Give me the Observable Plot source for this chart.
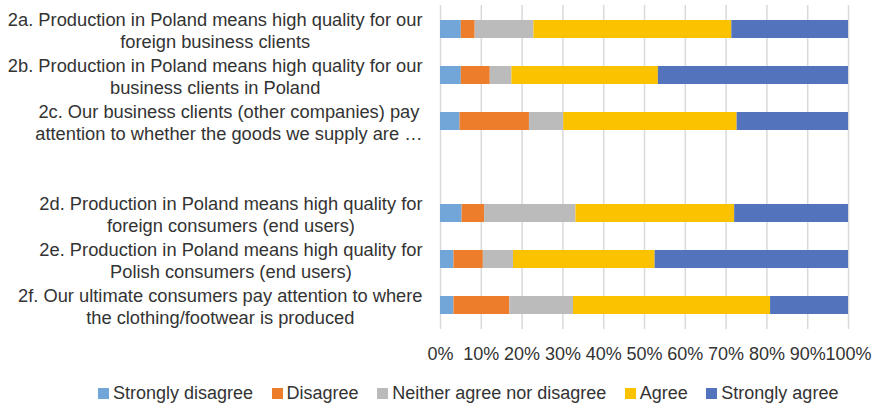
<!DOCTYPE html>
<html><head><meta charset="utf-8">
<script src="https://cdn.jsdelivr.net/npm/d3@7"></script>
<script src="https://cdn.jsdelivr.net/npm/@observablehq/plot@0.6"></script>
<style>
body{margin:0;background:#fff;font-family:"Liberation Sans",Arial,sans-serif;}
#legend{display:flex;padding-left:98px;margin-top:12px;font-size:18px;line-height:22px;color:#333;white-space:nowrap;}
.item{display:flex;align-items:center;margin-right:18.5px;}
.sw{width:11px;height:11px;margin-right:4px;flex:none;}
</style></head><body><div id="chart"></div><div id="legend"></div>
<script>
const statements = [
  "2a. Production in Poland means high quality for our\nforeign business clients",
  "2b. Production in Poland means high quality for our\nbusiness clients in Poland",
  "2c. Our business clients (other companies) pay\nattention to whether the goods we supply are …",
  "2d. Production in Poland means high quality for\nforeign consumers (end users)",
  "2e. Production in Poland means high quality for\nPolish consumers (end users)",
  "2f. Our ultimate consumers pay attention to where\nthe clothing/footwear is produced"
];
const responses = ["Strongly disagree", "Disagree", "Neither agree nor disagree", "Agree", "Strongly agree"];
const colors = ["#72A6D9", "#ED7D2B", "#BBBBBB", "#FBC200", "#5374BC"];
const stronglyDisagree = [5.1, 5.1, 4.8, 5.3, 3.3, 3.3];
const disagree         = [3.4, 7.1, 17.0, 5.5, 7.2, 13.7];
const neither          = [14.4, 5.3, 8.4, 22.4, 7.4, 15.6];
const agree            = [48.5, 35.9, 42.5, 38.9, 34.7, 48.3];
const stronglyAgree    = [28.6, 46.6, 27.3, 27.9, 47.4, 19.1];
const xTicks = [0, 10, 20, 30, 40, 50, 60, 70, 80, 90, 100];

const series = [stronglyDisagree, disagree, neither, agree, stronglyAgree];
const yOrder = [...statements.slice(0, 3), "", ...statements.slice(3)];
const data = [];
statements.forEach((s, i) => responses.forEach((r, j) => data.push({statement: s, response: r, value: series[j][i]})));

const plot = Plot.plot({
  width: 877, height: 370,
  marginLeft: 440, marginRight: 29, marginTop: 5, marginBottom: 41,
  style: {fontFamily: '"Liberation Sans", Arial, sans-serif', fontSize: "18px", color: "#333", background: "white"},
  x: {domain: [0, 100], label: null},
  y: {domain: yOrder, paddingInner: 0.611, paddingOuter: 0.3055, axis: null},
  color: {domain: responses, range: colors},
  marks: [
    Plot.gridX(xTicks, {stroke: "#d9d9d9", strokeOpacity: 1, strokeWidth: 1.5}),
    Plot.barX(data, Plot.stackX({x: "value", y: "statement", fill: "response", order: responses})),
    Plot.axisX(xTicks, {tickSize: 0, tickPadding: 18, tickFormat: d => d + "%", fontSize: 18, label: null, fill: "#333"}),
    Plot.text(statements, {y: d => d, frameAnchor: "left", dx: -18, textAnchor: "end", lineAnchor: "middle", lineHeight: 1.2, fontSize: 18.3, fill: "#333"})
  ]
});
document.getElementById("chart").appendChild(plot);

// center the lines of each multi-line label within its block (block right-aligned)
plot.querySelectorAll("text").forEach(t => {
  const spans = t.querySelectorAll("tspan");
  if (spans.length < 2) return;
  let W = 0;
  spans.forEach(s => { W = Math.max(W, s.getComputedTextLength()); });
  t.setAttribute("text-anchor", "middle");
  spans.forEach(s => s.setAttribute("x", -W / 2));
});

const legend = document.getElementById("legend");
responses.forEach((r, i) => {
  const item = document.createElement("div");
  item.className = "item";
  const sw = document.createElement("span");
  sw.className = "sw";
  sw.style.background = colors[i];
  const lab = document.createElement("span");
  lab.textContent = r;
  item.appendChild(sw); item.appendChild(lab);
  legend.appendChild(item);
});
</script></body></html>
